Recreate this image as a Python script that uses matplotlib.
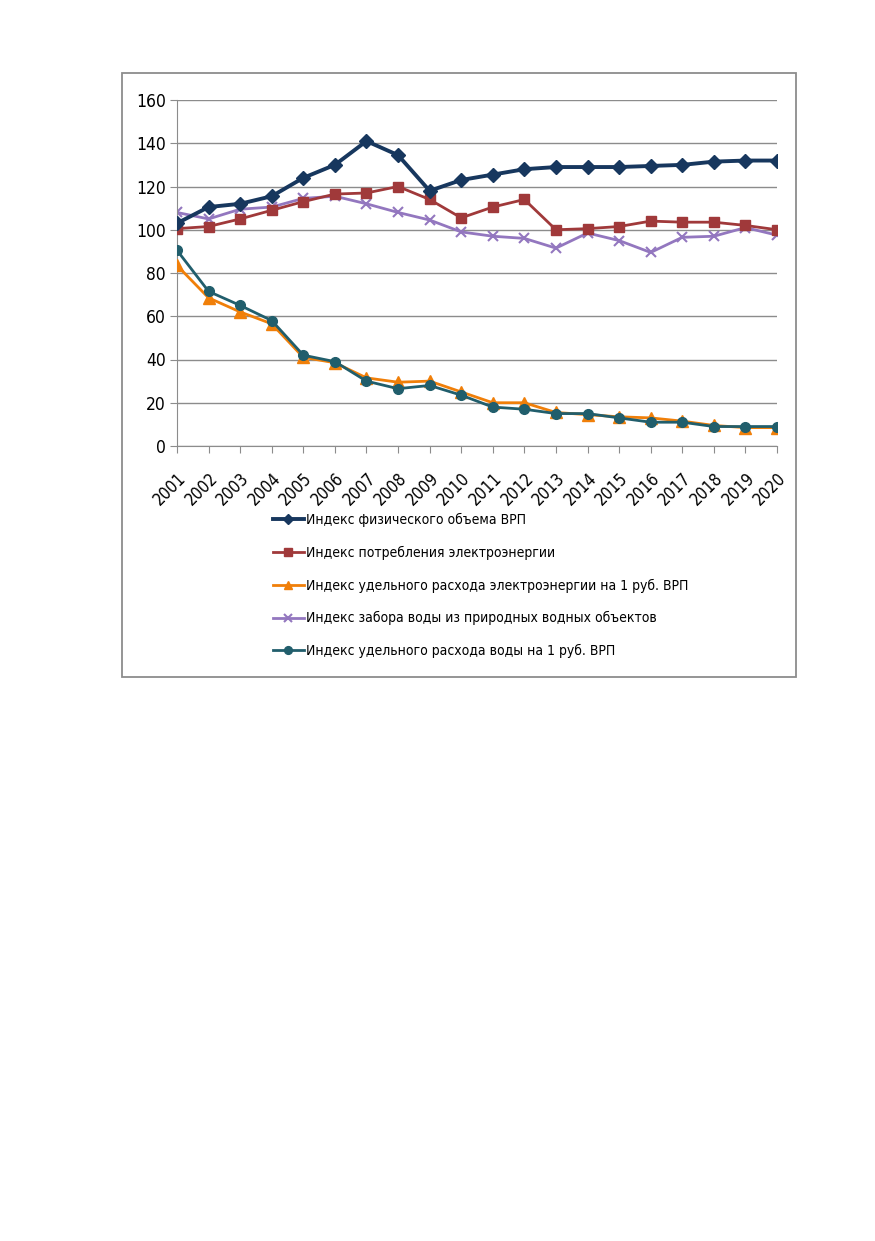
import matplotlib
matplotlib.use("Agg")
import matplotlib.pyplot as plt
from matplotlib.patches import Rectangle

# узкий шрифт, как в оригинале (Arial Narrow)
plt.rcParams['font.family'] = ['DejaVu Sans']
plt.rcParams['font.stretch'] = 'condensed'

# ===== данные =====
years = list(range(2001, 2021))
grp_volume = [103, 110.5, 112, 115.5, 124, 130, 141, 134.5, 118, 123,
              125.5, 128, 129, 129, 129, 129.5, 130, 131.5, 132, 132]
power_use = [100.5, 101.5, 105, 109, 113, 116.5, 117, 120, 114, 105.5,
             110.5, 114, 100, 100.5, 101.5, 104, 103.5, 103.5, 102, 100]
power_per_rub = [83.5, 68.5, 62, 56.5, 41, 38.5, 31.5, 29.5, 30, 25,
                 20, 20, 15.5, 14.5, 13.5, 13, 11.5, 9.5, 8.5, 8.5]
water_intake = [108, 105, 109.5, 110.5, 114.5, 115.5, 112, 108, 104.5, 99,
                97, 96, 91.5, 98.5, 95, 89.5, 96.5, 97, 101, 97.5]
water_per_rub = [90.5, 71.5, 65, 58, 42, 39, 30, 26.5, 28, 23.5,
                 18, 17, 15, 15, 13, 11, 11, 9, 9, 9]

labels = [
    "Индекс физического объема ВРП",
    "Индекс потребления электроэнергии",
    "Индекс удельного расхода электроэнергии на 1 руб. ВРП",
    "Индекс забора воды из природных водных объектов",
    "Индекс удельного расхода воды на 1 руб. ВРП",
]
y_ticks = [0, 20, 40, 60, 80, 100, 120, 140, 160]


def main():
    W, H = 875, 1241
    fig = plt.figure(figsize=(W / 100, H / 100), dpi=100)

    # рамка диаграммы
    fig.patches.append(Rectangle((122 / W, 1 - 677 / H), (796 - 122) / W, (677 - 73) / H,
                                 transform=fig.transFigure, fill=False,
                                 edgecolor="#8c8c8c", linewidth=1.3))

    ax = fig.add_axes([177 / W, 1 - 446 / H, (777 - 177) / W, (446 - 100) / H])

    x = list(range(len(years)))
    ax.plot(x, grp_volume, color="#17375E", lw=2.8, marker="D", ms=7, label=labels[0], zorder=5)
    ax.plot(x, power_use, color="#A0393A", lw=2.0, marker="s", ms=7, label=labels[1], zorder=4)
    ax.plot(x, power_per_rub, color="#F07F09", lw=2.0, marker="^", ms=8, label=labels[2], zorder=3)
    ax.plot(x, water_intake, color="#9377BF", lw=2.0, marker="x", ms=7, mew=1.5, label=labels[3], zorder=2)
    ax.plot(x, water_per_rub, color="#215E6C", lw=2.0, marker="o", ms=7, label=labels[4], zorder=4)

    ax.set_xlim(0, len(years) - 1)
    ax.set_ylim(0, 160)
    ax.set_yticks(y_ticks)
    ax.set_yticklabels([str(v) for v in y_ticks], fontsize=12.5)
    ax.set_xticks(x)
    ax.set_xticklabels([str(y) for y in years], rotation=45, ha="right",
                       rotation_mode="anchor", fontsize=12)
    ax.grid(True, axis="y", color="#8c8c8c", lw=1.0)
    ax.set_axisbelow(True)
    for side in ["top", "right"]:
        ax.spines[side].set_visible(False)
    for side in ["left", "bottom"]:
        ax.spines[side].set_color("#8c8c8c")
    ax.tick_params(axis="y", color="#8c8c8c", length=5, pad=3)
    ax.tick_params(axis="x", color="#8c8c8c", length=5, pad=12)
    for lbl in ax.get_xticklabels():
        lbl.set_x(lbl.get_position()[0])

    ax.legend(loc="upper left", bbox_to_anchor=(273 / W, 1 - 513 / H),
              bbox_transform=fig.transFigure, frameon=False, fontsize=10,
              labelspacing=1.34, handlelength=2.2, handletextpad=0.15,
              borderaxespad=0, borderpad=0, markerscale=0.8)

    fig.savefig("out.png", dpi=100)


if __name__ == "__main__":
    main()
